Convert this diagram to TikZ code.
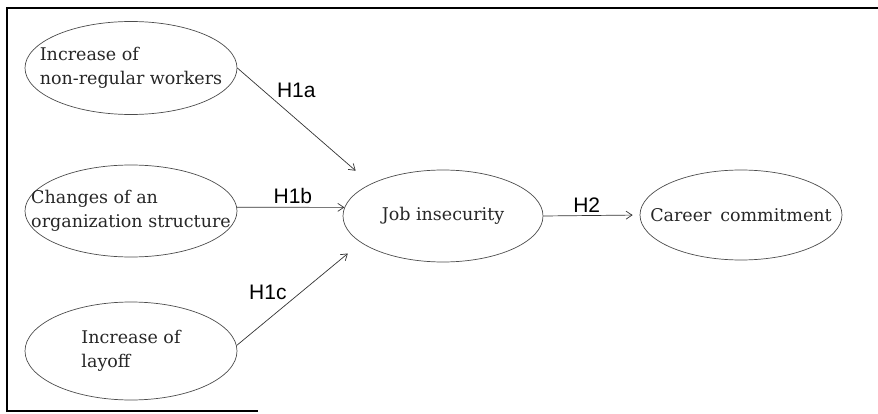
\documentclass[tikz,border=0pt]{standalone}
\usepackage{fontspec}
\setmainfont{DejaVu Serif}
\newfontfamily\hypfont{Liberation Sans}
\usetikzlibrary{shapes.geometric, arrows.meta}
\tikzset{
    x=1pt, y=-1pt,          % one unit = one pixel of the layout
    factor/.style={         % ellipse of a variable
        draw=black!70,
        ellipse,
        line width=0.7pt,
        inner sep=0pt,
        minimum width=212pt,
        minimum height=93pt
    },
    factortext/.style={     % text set inside an ellipse
        align=left,
        inner sep=0pt,
        text=black!85,
        font=\fontsize{17.5}{24.5}\selectfont
    },
    hyp/.style={            % hypothesis label
        inner sep=2pt,
        font=\hypfont\fontsize{21}{21}\selectfont
    },
    link/.style={           % path between two variables
        draw=black!80,
        line width=0.7pt,
        -{Straight Barb[length=6pt, width=8pt]}
    }
}
\begin{document}
\begin{tikzpicture}
    \useasboundingbox (0,0) rectangle (878,414);
    % frame
    \draw[line width=2pt] (7,412) -- (7,8) -- (878,8);
    \draw[line width=1.5pt] (7,411) -- (258,411);

    \node[factor] (nonreg) at (131,68) {};
    \node[factortext] at (nonreg) {Increase of\\non-regular workers};
    \node[factor, minimum height=92pt] (orgchg) at (131,211) {};
    \node[factortext] at (orgchg) {Changes of an\\organization structure};
    \node[factor, minimum height=98pt] (layoff) at (131,351) {};
    \node[factortext] at (layoff) {Increase of\\layoff};
    \node[factor, minimum width=200pt, minimum height=92pt] (jobins) at (443,216) {};
    \node[factortext] at (jobins) {Job insecurity};
    \node[factor, minimum width=202pt, minimum height=90pt] (career) at (741,215) {};
    \node[factortext] at (career) {Career\enspace commitment};

    \draw[link, shorten >=20pt] (nonreg.east) -- (jobins.156) node[hyp, above right, pos=0.28] {H1a};
    \draw[link] (orgchg.2) -- (jobins.175) node[hyp, above=1pt, pos=0.52] {H1b};
    \draw[link, shorten >=17pt] (layoff.3) -- (jobins.198) node[hyp, above left, pos=0.42] {H1c};
    \draw[link, shorten >=7pt] (jobins.east) -- (career.west) node[hyp, above=1pt, pos=0.45] {H2};
\end{tikzpicture}
\end{document}
